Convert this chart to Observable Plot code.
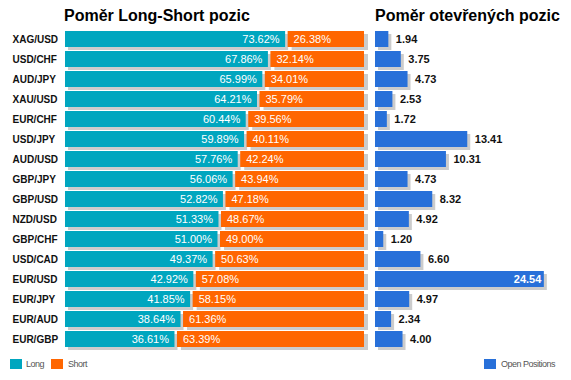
<!DOCTYPE html>
<html>
<head>
<meta charset="utf-8">
<script src="https://cdn.jsdelivr.net/npm/d3@7"></script>
<script src="https://cdn.jsdelivr.net/npm/@observablehq/plot@0.6"></script>
<style>
  html, body { margin: 0; padding: 0; background: #fff; }
  #wrap { position: relative; width: 571px; height: 380px; overflow: hidden; font-family: Arial, "Liberation Sans", sans-serif; }
  .title { position: absolute; top: 6px; font-weight: bold; font-size: 16px; color: #000; white-space: nowrap; line-height: 20px; }
  .panel { position: absolute; top: 0; }
  .lg { position: absolute; top: 359px; height: 10px; }
  .lt { position: absolute; top: 358px; font-size: 9px; letter-spacing: -0.5px; color: #555; line-height: 12px; white-space: nowrap; }
</style>
</head>
<body>
<div id="wrap">
  <div class="title" style="left:64px">Poměr Long-Short pozic</div>
  <div class="title" style="left:375px">Poměr otevřených pozic</div>
  <div id="left" class="panel" style="left:0px"></div>
  <div id="right" class="panel" style="left:370px"></div>
  <div class="lg" style="left:10px;width:12px;background:#00a6bf"></div>
  <div class="lt" style="left:26px">Long</div>
  <div class="lg" style="left:51px;width:12px;background:#ff6600"></div>
  <div class="lt" style="left:68px">Short</div>
  <div class="lg" style="left:484px;width:12px;background:#2870d9"></div>
  <div class="lt" style="left:501px">Open Positions</div>
</div>
<script>
const pairs = ["XAG/USD","USD/CHF","AUD/JPY","XAU/USD","EUR/CHF","USD/JPY","AUD/USD","GBP/JPY","GBP/USD","NZD/USD","GBP/CHF","USD/CAD","EUR/USD","EUR/JPY","EUR/AUD","EUR/GBP"];
const longPct = [73.62,67.86,65.99,64.21,60.44,59.89,57.76,56.06,52.82,51.33,51.00,49.37,42.92,41.85,38.64,36.61];
const shortPct = [26.38,32.14,34.01,35.79,39.56,40.11,42.24,43.94,47.18,48.67,49.00,50.63,57.08,58.15,61.36,63.39];
const openPos = [1.94,3.75,4.73,2.53,1.72,13.41,10.31,4.73,8.32,4.92,1.20,6.60,24.54,4.97,2.34,4.00];

const TEAL = "#00a6bf", ORANGE = "#ff6600", BLUE = "#2870d9", SHADOW = "#cccccc";
const rows = pairs.map((p, i) => ({pair: p, long: longPct[i], short: shortPct[i], open: openPos[i]}));
const font = "Arial, 'Liberation Sans', sans-serif";
const yScale = {domain: pairs, padding: 0.2};

const left = Plot.plot({
  width: 375, height: 352,
  marginLeft: 65, marginRight: 11, marginTop: 27, marginBottom: 1,
  style: {fontFamily: font, background: "transparent", overflow: "visible"},
  x: {domain: [0, 100], axis: null},
  y: yScale,
  marks: [
    Plot.barX(rows, {x1: 0, x2: "long", y: "pair", fill: SHADOW, dx: 3, dy: 3}),
    Plot.barX(rows, {x1: "long", x2: 100, y: "pair", fill: SHADOW, dx: 4, dy: 3, insetLeft: 2.5}),
    Plot.barX(rows, {x1: 0, x2: "long", y: "pair", fill: TEAL}),
    Plot.barX(rows, {x1: "long", x2: 100, y: "pair", fill: ORANGE, insetLeft: 2.5}),
    Plot.text(rows, {x: "long", y: "pair", text: d => d.long.toFixed(2) + "%", textAnchor: "end", dx: -6, fill: "white", fontSize: 11}),
    Plot.text(rows, {x: "long", y: "pair", text: d => d.short.toFixed(2) + "%", textAnchor: "start", dx: 8, fill: "white", fontSize: 11}),
    Plot.axisY({tickSize: 0, tickPadding: 53, textAnchor: "start", fontSize: 10, fontWeight: "bold", fill: "#111", label: null})
  ]
});
document.getElementById("left").appendChild(left);

const right = Plot.plot({
  width: 201, height: 352,
  marginLeft: 5, marginRight: 24, marginTop: 27, marginBottom: 1,
  style: {fontFamily: font, background: "transparent", overflow: "visible"},
  x: {domain: [0, 25], axis: null},
  y: {...yScale, axis: null},
  marks: [
    Plot.barX(rows, {x1: 0, x2: "open", y: "pair", fill: SHADOW, dx: 3, dy: 3}),
    Plot.barX(rows, {x1: 0, x2: "open", y: "pair", fill: BLUE}),
    Plot.text(rows.filter(d => d.open < 20), {x: "open", y: "pair", text: d => d.open.toFixed(2), textAnchor: "start", dx: 7, fill: "#111", fontSize: 11, fontWeight: "bold"}),
    Plot.text(rows.filter(d => d.open >= 20), {x: "open", y: "pair", text: d => d.open.toFixed(2), textAnchor: "end", dx: -3, fill: "white", fontSize: 11, fontWeight: "bold"})
  ]
});
document.getElementById("right").appendChild(right);
</script>
</body>
</html>
